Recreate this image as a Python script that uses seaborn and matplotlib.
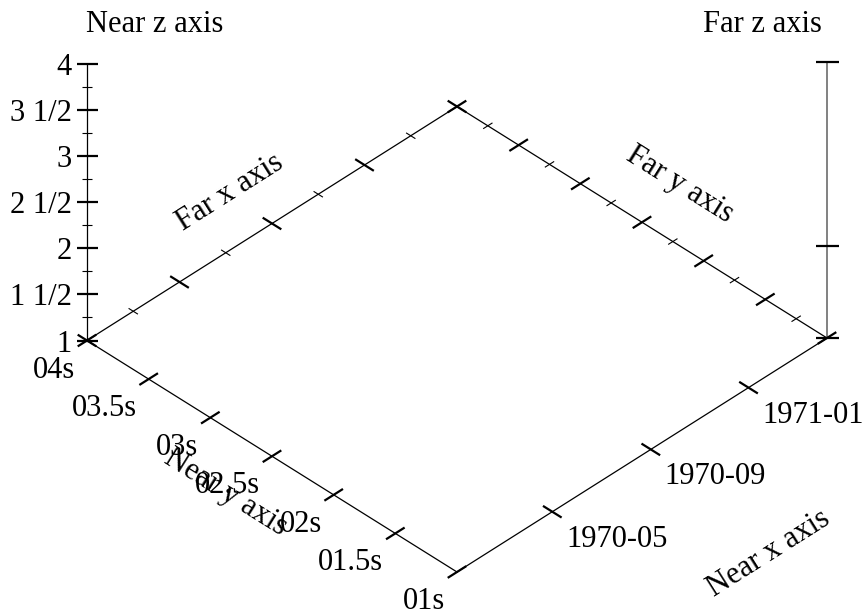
import numpy as np
import pandas as pd
import matplotlib
matplotlib.use("Agg")
import matplotlib.pyplot as plt
import seaborn as sns
from matplotlib.collections import LineCollection

# x axis: dates
x_start = "1970-01-02"
x_end = "1971-04-09"
x_tick_dates = ["1970-05-01", "1970-09-01", "1971-01-01"]
x_tick_labels = ["1970-05", "1970-09", "1971-01"]
far_x_major = [0.0, 0.25, 0.5, 0.75, 1.0]
far_x_minor = [0.125, 0.375, 0.625, 0.875]

# y axis: seconds, from 4s (far side) down to 1s (near side)
y_start = 4.0
y_end = 1.0
y_ticks = [4.0, 3.5, 3.0, 2.5, 2.0, 1.5, 1.0]
y_tick_labels = ["04s", "03.5s", "03s", "02.5s", "02s", "01.5s", "01s"]
y_minor = [3.75, 3.25, 2.75, 2.25, 1.75, 1.25]

# z axis
z_min = 1.0
z_max = 4.0
z_ticks = [1.0, 1.5, 2.0, 2.5, 3.0, 3.5, 4.0]
z_tick_labels = ["1", "1 1/2", "2", "2 1/2", "3", "3 1/2", "4"]
z_minor = [1.25, 1.75, 2.25, 2.75, 3.25, 3.75]
far_z_ticks = [1.0, 2.0, 4.0]

# projection of the box onto the page (pixels, y down)
ORIGIN = np.array([87.0, 340.5])
EX = np.array([370.0, -234.0])
EY = np.array([370.0, 231.5])
EZ = np.array([0.0, -276.5])

t0 = pd.Timestamp(x_start)
t1 = pd.Timestamp(x_end)


def xf(d):
    return (pd.Timestamp(d) - t0) / (t1 - t0)


def yf(v):
    return (y_start - v) / (y_start - y_end)


def zf(v):
    return (v - z_min) / (z_max - z_min)


def project(x, y, z):
    return ORIGIN + x * EX + y * EY + z * EZ


def unit(v):
    return v / np.linalg.norm(v)


def tick(p, direction, length):
    u = unit(direction) * length / 2
    return [tuple(p - u), tuple(p + u)]


sns.set_style("white")
plt.rcParams["font.family"] = ["Liberation Serif", "DejaVu Serif"]
plt.rcParams["text.color"] = "black"
FS = 22

fig = plt.figure(figsize=(8.67, 6.15), dpi=100)
ax = fig.add_axes([0, 0, 1, 1])

# box edges on the floor plus near z axis
edges = {
    "far x": [(0, 0, 0), (1, 0, 0)],
    "far y": [(1, 0, 0), (1, 1, 0)],
    "near y": [(0, 0, 0), (0, 1, 0)],
    "near x": [(0, 1, 0), (1, 1, 0)],
    "near z": [(0, 0, 0), (0, 0, 1)],
}
rows = []
for name, pts in edges.items():
    for i, p in enumerate(pts):
        px, py = project(*p)
        rows.append({"axis": name, "order": i, "px": px, "py": py})
df = pd.DataFrame(rows)
sns.lineplot(data=df, x="px", y="py", units="axis", estimator=None, sort=False,
             color="black", lw=0.9, ax=ax, legend=False)

far_z = project(1, 1, 0), project(1, 1, 1)
ax.plot([far_z[0][0], far_z[1][0]], [far_z[0][1], far_z[1][1]], color="#777777", lw=1.3)
ax.set_xlim(0, 867)
ax.set_ylim(615, 0)
ax.axis("off")

major, minor = [], []
horiz = np.array([1.0, 0.0])

# near z ticks and labels
for v, lab in zip(z_ticks, z_tick_labels):
    p = project(0, 0, zf(v))
    major.append(tick(p, horiz, 21))
    ax.text(p[0] - 15, p[1], lab, ha="right", va="center_baseline", fontsize=FS, color="black")
for v in z_minor:
    minor.append(tick(project(0, 0, zf(v)), horiz, 10))

# far z ticks
for v in far_z_ticks:
    major.append(tick(project(1, 1, zf(v)), horiz, 23))

# far x ticks
for f in far_x_major:
    major.append(tick(project(f, 0, 0), EY, 22))
for f in far_x_minor:
    minor.append(tick(project(f, 0, 0), EY, 11))

# far y ticks
for v in y_ticks:
    major.append(tick(project(1, yf(v), 0), EX, 22))
for v in y_minor:
    minor.append(tick(project(1, yf(v), 0), EX, 11))

# near y ticks and labels
for v, lab in zip(y_ticks, y_tick_labels):
    p = project(0, yf(v), 0)
    major.append(tick(p, EX, 22))
    ax.text(p[0] - 12, p[1] + 15, lab, ha="right", va="top", fontsize=FS, color="black")

# near x ticks and labels
for d, lab in zip(x_tick_dates, x_tick_labels):
    p = project(xf(d), 1, 0)
    major.append(tick(p, EY, 22))
    ax.text(p[0] + 14, p[1] + 13, lab, ha="left", va="top", fontsize=FS, color="black")

ax.add_collection(LineCollection(major, colors="black", linewidths=1.6))
ax.add_collection(LineCollection(minor, colors="black", linewidths=0.8))

# axis titles
ang = np.degrees(np.arctan2(-EX[1], EX[0]))
ang_y = -np.degrees(np.arctan2(EY[1], EY[0]))
titles = [
    ("Far x axis", project(0.5, 0, 0) + np.array([-42, -31]), ang),
    ("Far y axis", project(1, 0.5, 0) + np.array([38, -38]), ang_y),
    ("Near y axis", project(0, 0.5, 0) + np.array([-46, 36]), ang_y),
    ("Near x axis", project(0.5, 1, 0) + np.array([127, 99]), ang),
]
for txt, p, rot in titles:
    ax.text(p[0], p[1], txt, ha="center", va="center", rotation=rot,
            rotation_mode="anchor", fontsize=FS, color="black")

ax.text(155, 24, "Near z axis", ha="center", va="center", fontsize=FS, color="black")
ax.text(762, 24, "Far z axis", ha="center", va="center", fontsize=FS, color="black")

fig.savefig("out.png", dpi=100)
